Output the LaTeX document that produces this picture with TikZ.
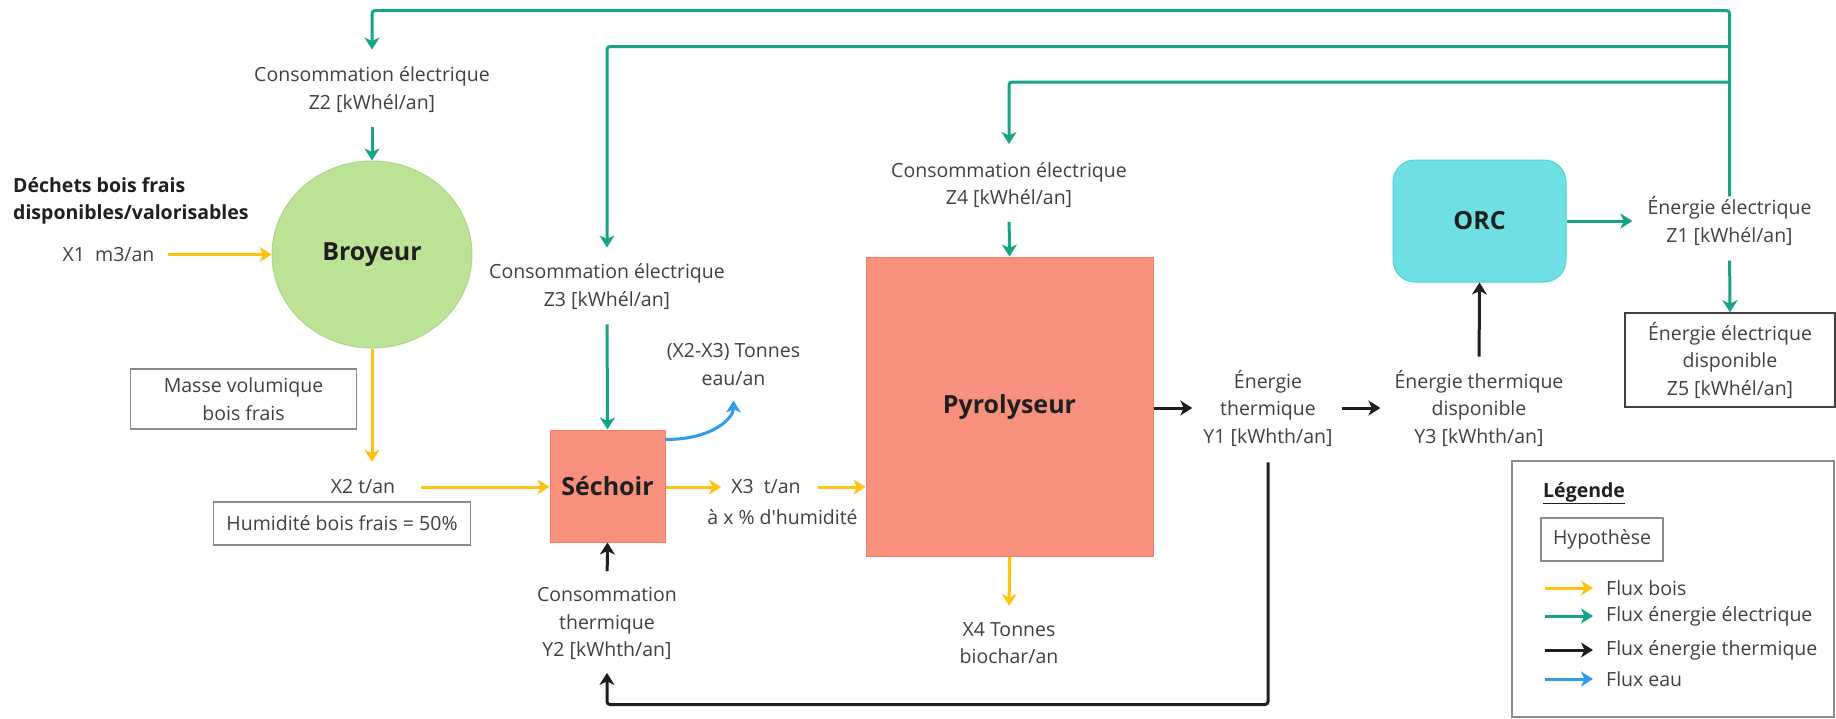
\documentclass[tikz,border=0pt]{standalone}
\usepackage{fontspec}
\setmainfont{Open Sans}
\usetikzlibrary{arrows.meta,shapes.geometric,calc}

\definecolor{woodc}{HTML}{FFC20E}
\definecolor{elecc}{HTML}{16A387}
\definecolor{heatc}{HTML}{1E1E1E}
\definecolor{waterc}{HTML}{2E9BEF}
\definecolor{salmon}{HTML}{F7907C}
\definecolor{salmonline}{HTML}{F47B68}
\definecolor{broyfill}{HTML}{BCE395}
\definecolor{broyline}{HTML}{AAD88A}
\definecolor{orcfill}{HTML}{6EDFE3}
\definecolor{orcline}{HTML}{4FD3DA}
\definecolor{txtgray}{HTML}{404040}
\definecolor{titleblack}{HTML}{1F1F1F}
\definecolor{boxgray}{HTML}{8A8A8A}

\begin{document}
\begin{tikzpicture}[x=1pt,y=-1pt,
  txt/.style={font=\fontsize{19.5pt}{27.5pt}\selectfont, text=txtgray, align=center, inner sep=0pt},
  boldtxt/.style={font=\fontsize{19.5pt}{27pt}\selectfont\bfseries, text=titleblack, align=left, inner sep=0pt},
  bigtitle/.style={font=\fontsize{25pt}{28pt}\selectfont\bfseries, text=titleblack},
  procbox/.style={bigtitle, draw=salmonline, fill=salmon, line width=1pt, inner sep=0pt},
  hypbox/.style={txt, draw=boxgray, line width=1.5pt},
  flow/.style={line width=3pt, rounded corners=3pt, -{Stealth[length=12pt,width=15pt,inset=3.5pt]}},
  wood/.style={flow, draw=woodc, color=woodc},
  elec/.style={flow, draw=elecc, color=elecc},
  heat/.style={flow, draw=heatc, color=heatc},
  water/.style={flow, draw=waterc, color=waterc},
]
\useasboundingbox (0,0) rectangle (1836,718);
\fill[white] (0,0) rectangle (1836,718);

% --- process units ---
\node[ellipse, draw=broyline, fill=broyfill, line width=1pt, minimum width=200pt, minimum height=187pt, inner sep=0pt, bigtitle] (broyeur) at (372,254.5) {Broyeur};
\node[procbox, minimum width=115pt, minimum height=112pt] (sechoir) at (607.5,486) {Séchoir};
\node[procbox, minimum width=287pt, minimum height=299pt] (pyro) at (1009.5,406.5) {};
\node[bigtitle] at (1009.5,407) {Pyrolyseur};
\node[bigtitle, draw=orcline, fill=orcfill, line width=1pt, rounded corners=22pt, minimum width=173pt, minimum height=122pt, inner sep=0pt] (orc) at (1479.5,221) {ORC};

% --- labels ---
\node[txt] (z2txt) at (372,89.5) {Consommation électrique\\Z2 [kWhél/an]};
\node[txt] (z3txt) at (607,286.5) {Consommation électrique\\Z3 [kWhél/an]};
\node[txt] (z4txt) at (1009,185) {Consommation électrique\\Z4 [kWhél/an]};
\node[txt] (z1txt) at (1729.5,221) {Énergie électrique\\Z1 [kWhél/an]};
\node[boldtxt, anchor=west] (dechets) at (13,200.5) {Déchets bois frais\\disponibles/valorisables};
\node[txt] (x1) at (108.5,254.5) {X1~~m3/an};
\node[txt] (x2) at (363,487) {X2 t/an};
\node[txt] (x3) at (766,487) {X3~~t/an};
\node[txt] (x3b) at (782.5,517) {à x \% d\textquotesingle humidité};
\node[txt] (eau) at (733.5,364.5) {(X2-X3) Tonnes\\eau/an};
\node[txt] (y2txt) at (607,623.5) {Consommation\\thermique\\Y2 [kWhth/an]};
\node[txt] (x4txt) at (1009,643) {X4 Tonnes\\biochar/an};
\node[txt] (y1txt) at (1268,408) {Énergie\\thermique\\Y1 [kWhth/an]};
\node[txt] (y3txt) at (1479,408) {Énergie thermique\\disponible\\Y3 [kWhth/an]};

% --- assumptions ---
\node[hypbox, minimum width=226pt, minimum height=60pt] (masse) at (243.5,399) {Masse volumique\\bois frais};
\node[hypbox, minimum width=257pt, minimum height=43pt] (humid) at (342,523.5) {Humidité bois frais = 50\%};
\node[txt, draw=heatc!85, line width=1.5pt, minimum width=210pt, minimum height=94pt] (z5box) at (1730,360) {Énergie électrique\\disponible\\Z5 [kWhél/an]};

% --- electricity distribution bus ---
\coordinate (bustop) at (1729.5,10.5);
\coordinate (bus2) at (1729.5,46.5);
\coordinate (bus3) at (1729.5,82);
\draw[elec, shorten >=17pt] (z1txt.north) -- (bustop) -| (z2txt.north);
\draw[elec, shorten >=16pt] (bus2) -| (z3txt.north);
\draw[elec, shorten >=18pt] (bus3) -| (z4txt.north);

% --- electricity flows ---
\draw[elec, shorten <=15pt] (z2txt.south) -- (broyeur.north);
\draw[elec, shorten <=15pt] (z3txt.south) -- (sechoir.north);
\draw[elec, shorten <=14pt] (z4txt.south) -- (pyro.north);
\draw[elec, shorten >=15pt] (orc.east) -- (orc.east -| z1txt.west);
\draw[elec, shorten <=15pt] (z1txt.south) -- (z5box.north);

% --- wood flows ---
\draw[wood, shorten <=13pt] (x1.east) -- (broyeur.west);
\draw[wood, shorten >=18pt] (broyeur.south) -- (broyeur.south |- x2.north);
\draw[wood, shorten <=26pt] (x2.east) -- (x2.east -| sechoir.west);
\draw[wood, shorten >=10pt] (x3.west -| sechoir.east) -- (x3.west);
\draw[wood, shorten <=17pt] (x3.east) -- (x3.east -| pyro.west);
\draw[wood, shorten >=16pt] (pyro.south) -- (x4txt.north);

% --- water flow ---
\draw[water, shorten >=15pt] ([yshift=-10pt]sechoir.north east) .. controls +(48,0) and +(0,32) .. (eau.south);

% --- heat flows ---
\coordinate (loopbase) at (0,704.5);
\draw[heat, shorten >=11pt] (pyro.east |- y1txt.west) -- (y1txt.west);
\draw[heat, shorten <=9pt, shorten >=14pt] (y1txt.east) -- (y1txt.east -| y3txt.west);
\draw[heat, shorten <=13pt] (y3txt.north) -- (orc.south);
\draw[heat, shorten <=16pt] (y2txt.north) -- (sechoir.south);
\draw[heat, shorten <=16pt, shorten >=13pt] (y1txt.south) -- (y1txt.south |- loopbase) -| (y2txt.south);

% --- legend ---
\node[draw=boxgray, line width=1.5pt, minimum width=322pt, minimum height=256pt, inner sep=0pt] (legend) at (1673,589) {};
\node[boldtxt, anchor=west] (legtitle) at (1543,493) {\underline{Légende}};
\node[hypbox, minimum width=122pt, minimum height=43pt] (leghyp) at (1602,539.5) {Hypothèse};
\node[txt, anchor=west] (lt1) at (1606,588) {Flux bois};
\node[txt, anchor=west] (lt2) at (1606,616) {Flux énergie électrique};
\node[txt, anchor=west] (lt3) at (1606,650) {Flux énergie thermique};
\node[txt, anchor=west] (lt4) at (1606,679) {Flux eau};
\draw[wood] ([xshift=-61pt]lt1.west) -- ([xshift=-13pt]lt1.west);
\draw[elec] ([xshift=-61pt]lt2.west) -- ([xshift=-13pt]lt2.west);
\draw[heat] ([xshift=-61pt]lt3.west) -- ([xshift=-13pt]lt3.west);
\draw[water] ([xshift=-61pt]lt4.west) -- ([xshift=-13pt]lt4.west);
\end{tikzpicture}
\end{document}
